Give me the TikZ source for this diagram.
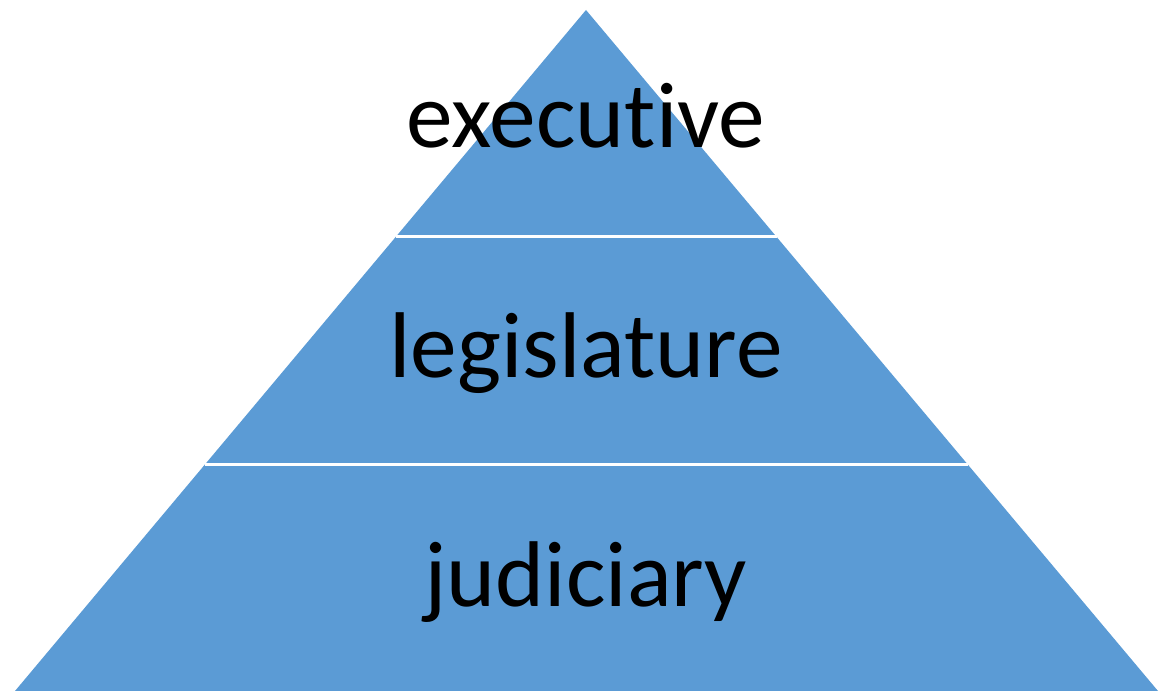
\documentclass[tikz,border=0pt]{standalone}
\usepackage{fontspec}
\setmainfont{Carlito}[Ligatures={NoCommon,NoContextual}]
\usetikzlibrary{calc}
\definecolor{pyrblue}{HTML}{5B9BD5}
\begin{document}
\begin{tikzpicture}[x=0.75pt,y=-0.75pt,
  tier/.style={anchor=base,inner sep=0pt,font=\fontsize{70pt}{82pt}\selectfont,text=black},
  sep/.style={draw=white,line width=2.25pt}]
\useasboundingbox (0,0) rectangle (1163,691);
\coordinate (apex) at (586,10);
\coordinate (bl) at (15,691);
\coordinate (br) at (1158,691);
\fill[pyrblue] (apex) -- (br) -- (bl) -- cycle;
\coordinate (s1l) at ($(apex)!227/681!(bl)$);
\coordinate (s1r) at ($(apex)!227/681!(br)$);
\coordinate (s2l) at ($(apex)!455/681!(bl)$);
\coordinate (s2r) at ($(apex)!455/681!(br)$);
\draw[sep] (s1l) -- (s1r);
\draw[sep] (s2l) -- (s2r);
\node[tier] (exec) at (586,148) {executive};
\node[tier] (legis) at (586,378) {legislature};
\node[tier] (jud) at (586,606) {judiciary};
\end{tikzpicture}
\end{document}
